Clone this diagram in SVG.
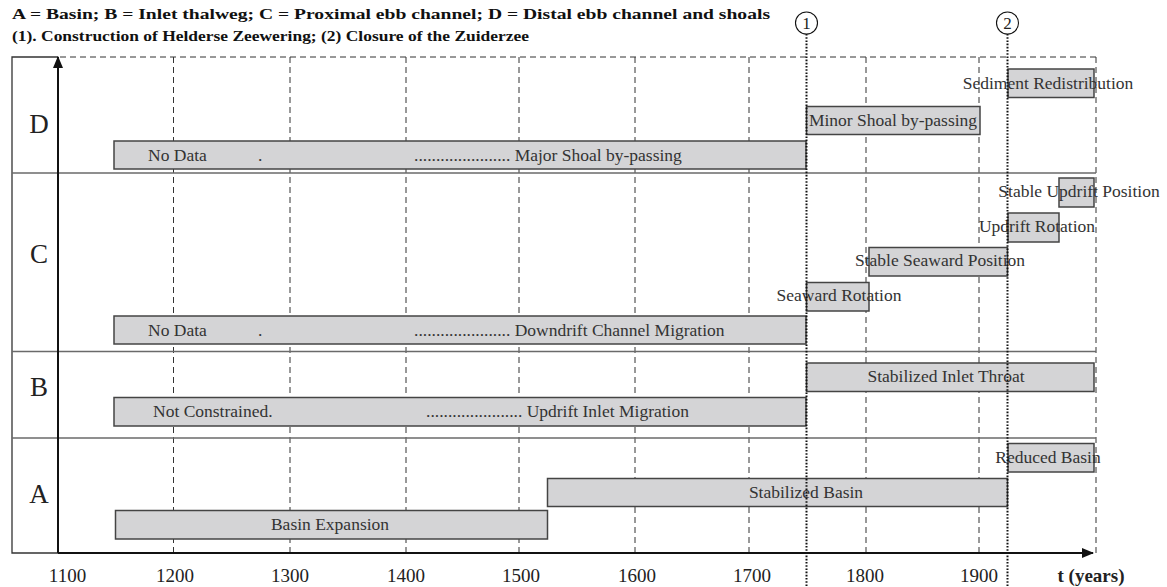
<svg xmlns="http://www.w3.org/2000/svg" width="1167" height="587" viewBox="0 0 1167 587">
<defs>
<style>
.hdr{font-family:"Liberation Serif",serif;font-weight:bold;font-size:14.5px;fill:#111}
.yr{font-family:"Liberation Serif",serif;font-size:19px;fill:#222;text-anchor:middle}
.row{font-family:"Liberation Serif",serif;font-size:27px;fill:#222;text-anchor:middle}
.lbl{font-family:"Liberation Serif",serif;font-size:17.5px;fill:#333}
.mid{text-anchor:middle}
.bar{fill:#d4d4d6;stroke:#444;stroke-width:1.5}
.grid{stroke:#333;stroke-width:1;stroke-dasharray:6 4;fill:none}
.div{stroke:#6a6a6a;stroke-width:1.6}
.dot{stroke:#111;stroke-width:2;stroke-dasharray:1.6 1.6;fill:none}
.axis{stroke:#111;stroke-width:2;fill:none}
</style>
<marker id="arr" viewBox="0 0 12 10" refX="11" refY="5" markerWidth="12" markerHeight="10" markerUnits="userSpaceOnUse" orient="auto">
<path d="M0,0 L12,5 L0,10 Z" fill="#111"/>
</marker>
</defs>
<rect width="1167" height="587" fill="#fff"/>
<g id="header">
<text class="hdr" x="12" y="19" textLength="758" lengthAdjust="spacingAndGlyphs">A = Basin; B =  Inlet thalweg; C = Proximal ebb channel; D = Distal ebb channel and shoals</text>
<text class="hdr" x="12" y="41" textLength="517" lengthAdjust="spacingAndGlyphs">(1). Construction of Helderse Zeewering; (2) Closure of the Zuiderzee</text>
</g>
<g id="grid">
<line class="grid" x1="60" y1="57" x2="1096" y2="57"/>
<line class="grid" x1="173.5" y1="57" x2="173.5" y2="553"/>
<line class="grid" x1="290" y1="57" x2="290" y2="553"/>
<line class="grid" x1="406" y1="57" x2="406" y2="553"/>
<line class="grid" x1="519" y1="57" x2="519" y2="553"/>
<line class="grid" x1="635" y1="57" x2="635" y2="553"/>
<line class="grid" x1="749" y1="57" x2="749" y2="553"/>
<line class="grid" x1="866" y1="57" x2="866" y2="553"/>
<line class="grid" x1="979" y1="57" x2="979" y2="553"/>
<line class="grid" x1="1096" y1="57" x2="1096" y2="553"/>
</g>
<g id="frame">
<path d="M58,57 H12 V553 H58" fill="none" stroke="#333" stroke-width="1.3"/>
<line class="div" x1="12" y1="173" x2="1096" y2="173"/>
<line class="div" x1="12" y1="351.5" x2="1096" y2="351.5"/>
<line class="div" x1="12" y1="438" x2="1096" y2="438"/>
</g>
<g id="row-labels">
<text class="row" x="39" y="133">D</text>
<text class="row" x="39" y="263">C</text>
<text class="row" x="39" y="396">B</text>
<text class="row" x="39" y="503">A</text>
</g>
<g id="bar-D-major-shoal">
<rect class="bar" x="114" y="141" width="692" height="28"/>
<text class="lbl" font-family="Liberation Serif, serif" y="160.5"><tspan x="148">No Data</tspan><tspan x="258">.</tspan><tspan x="414">...................... Major Shoal by-passing</tspan></text>
</g>
<g id="bar-D-minor-shoal">
<rect class="bar" x="806.5" y="106.5" width="173.5" height="28"/>
<text class="lbl mid" font-family="Liberation Serif, serif" x="893" y="126">Minor Shoal by-passing</text>
</g>
<g id="bar-D-sediment">
<rect class="bar" x="1008" y="69" width="86" height="28.5"/>
<text class="lbl mid" font-family="Liberation Serif, serif" x="1048" y="88.5">Sediment Redistribution</text>
</g>
<g id="bar-C-downdrift">
<rect class="bar" x="114" y="316" width="692" height="28"/>
<text class="lbl" font-family="Liberation Serif, serif" y="335.5"><tspan x="148">No Data</tspan><tspan x="258">.</tspan><tspan x="414">...................... Downdrift Channel Migration</tspan></text>
</g>
<g id="bar-C-seaward-rotation">
<rect class="bar" x="806.5" y="282.5" width="62.5" height="28.5"/>
<text class="lbl mid" font-family="Liberation Serif, serif" x="839" y="301">Seaward Rotation</text>
</g>
<g id="bar-C-stable-seaward">
<rect class="bar" x="869" y="247.5" width="138.5" height="28.5"/>
<text class="lbl mid" font-family="Liberation Serif, serif" x="940" y="266">Stable Seaward Position</text>
</g>
<g id="bar-C-updrift-rotation">
<rect class="bar" x="1008" y="213" width="51" height="29"/>
<text class="lbl mid" font-family="Liberation Serif, serif" x="1037" y="232">Updrift Rotation</text>
</g>
<g id="bar-C-stable-updrift">
<rect class="bar" x="1059" y="178" width="35" height="29"/>
<text class="lbl mid" font-family="Liberation Serif, serif" x="1079" y="197">Stable Updrift Position</text>
</g>
<g id="bar-B-updrift-migration">
<rect class="bar" x="114" y="397.5" width="692" height="28.5"/>
<text class="lbl" font-family="Liberation Serif, serif" y="417"><tspan x="153">Not Constrained.</tspan><tspan x="426">...................... Updrift Inlet Migration</tspan></text>
</g>
<g id="bar-B-stabilized-throat">
<rect class="bar" x="806.5" y="363" width="287.5" height="28.5"/>
<text class="lbl mid" font-family="Liberation Serif, serif" x="946" y="382">Stabilized Inlet Throat</text>
</g>
<g id="bar-A-reduced">
<rect class="bar" x="1008" y="443.5" width="86" height="28.5"/>
<text class="lbl mid" font-family="Liberation Serif, serif" x="1048" y="462.5">Reduced Basin</text>
</g>
<g id="bar-A-stabilized">
<rect class="bar" x="547.5" y="478.5" width="460" height="28"/>
<text class="lbl mid" font-family="Liberation Serif, serif" x="806" y="497.5">Stabilized Basin</text>
</g>
<g id="bar-A-expansion">
<rect class="bar" x="115.5" y="510.5" width="432" height="28.5"/>
<text class="lbl mid" font-family="Liberation Serif, serif" x="330" y="530">Basin Expansion</text>
</g>
<g id="connectors">
<line class="axis" x1="58" y1="553" x2="58" y2="57" marker-end="url(#arr)"/>
<line class="axis" x1="58" y1="553" x2="1093" y2="553" marker-end="url(#arr)"/>
<line class="dot" x1="806.5" y1="34" x2="806.5" y2="587"/>
<line class="dot" x1="1007.5" y1="34" x2="1007.5" y2="587"/>
</g>
<g id="event-1">
<circle cx="806.5" cy="23" r="11" fill="#fff" stroke="#111" stroke-width="1.1"/>
<text class="yr" x="806.5" y="29" style="font-size:17px">1</text>
</g>
<g id="event-2">
<circle cx="1007.5" cy="23" r="11" fill="#fff" stroke="#111" stroke-width="1.1"/>
<text class="yr" x="1007.5" y="29" style="font-size:17px">2</text>
</g>
<g id="year-labels">
<text class="yr" x="67.5" y="582">1100</text>
<text class="yr" x="175" y="582">1200</text>
<text class="yr" x="290" y="582">1300</text>
<text class="yr" x="406" y="582">1400</text>
<text class="yr" x="521" y="582">1500</text>
<text class="yr" x="637" y="582">1600</text>
<text class="yr" x="752" y="582">1700</text>
<text class="yr" x="865" y="582">1800</text>
<text class="yr" x="979" y="582">1900</text>
<text class="yr" x="1091" y="582" style="font-weight:bold">t (years)</text>
</g>
</svg>
